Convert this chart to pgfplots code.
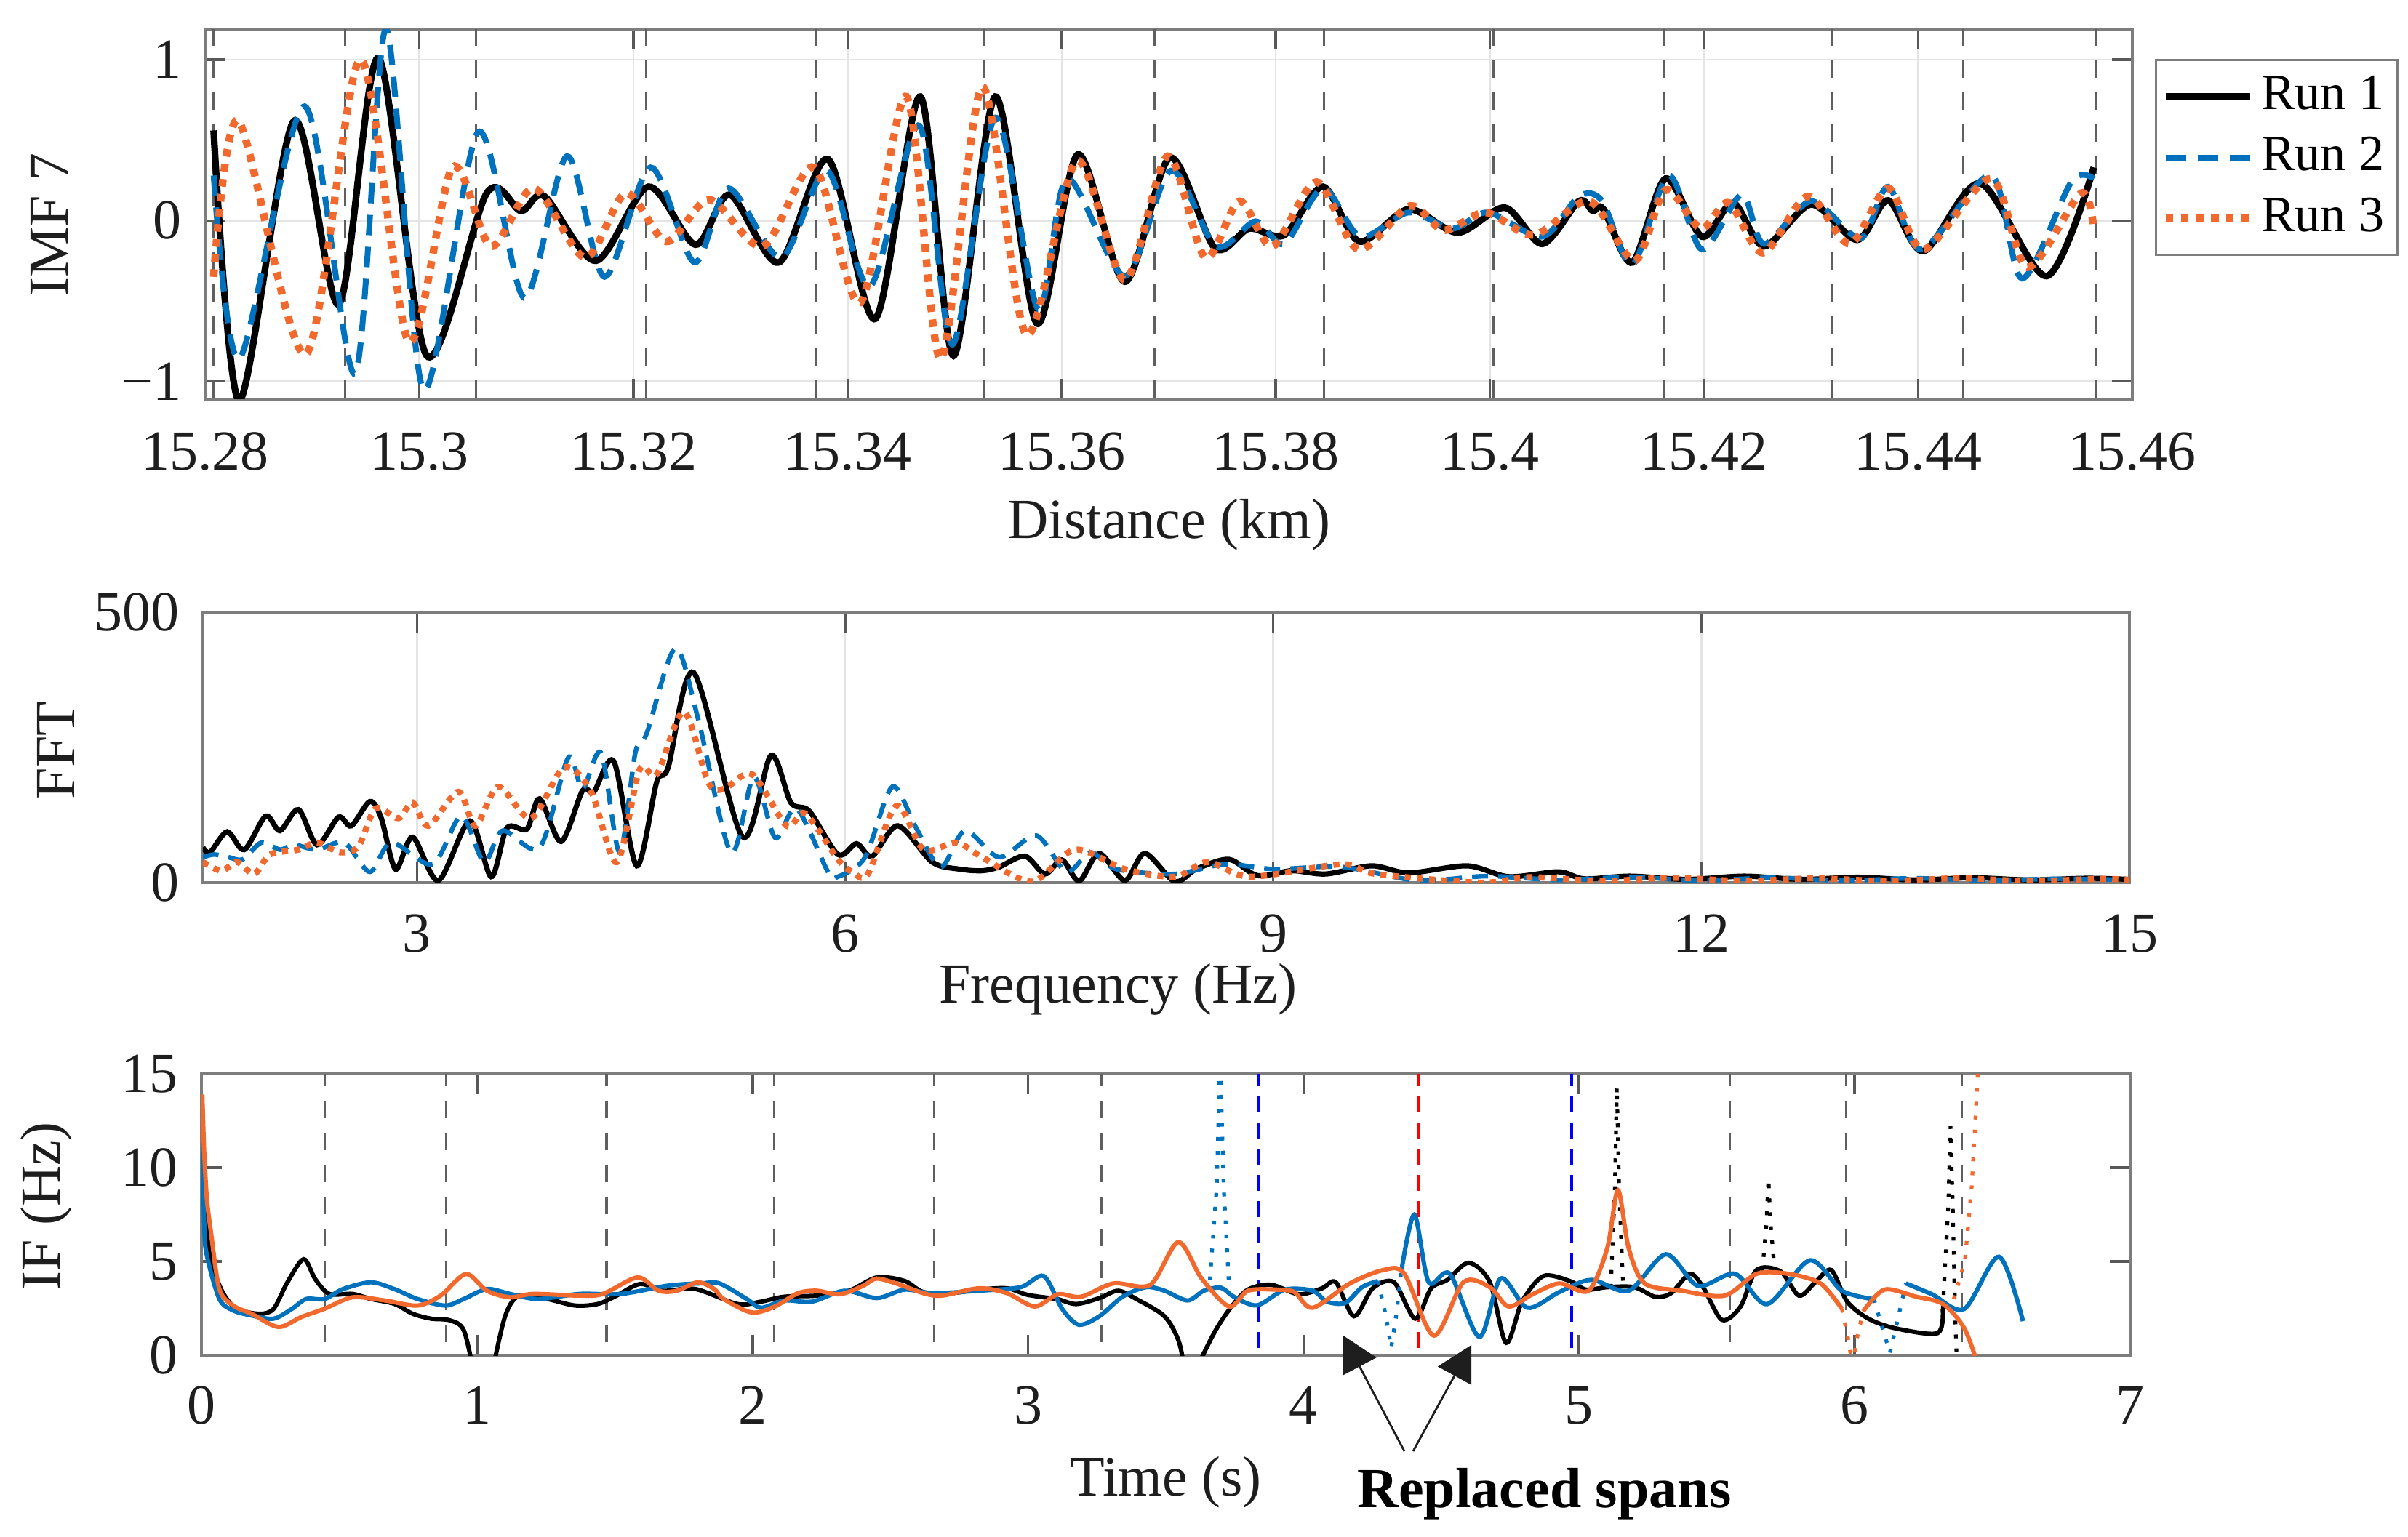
\documentclass[border=0pt]{standalone}
\usepackage{fontspec}
\setmainfont{Liberation Serif}
\usepackage{pgfplots}
\pgfplotsset{compat=1.18}
\usetikzlibrary{arrows.meta}
\definecolor{mblue}{RGB}{0,114,189}
\definecolor{morange}{RGB}{242,105,45}
\definecolor{axgray}{RGB}{125,125,125}
\definecolor{gridgray}{RGB}{228,228,228}
\definecolor{dashgray}{RGB}{95,95,95}
\definecolor{txt}{RGB}{30,30,30}

\pgfplotsset{
  mstyle/.style={
    scale only axis,
    axis line style={draw=axgray, line width=1.2pt},
    tick style={draw=axgray!70!black, line width=0.9pt},
    tick align=inside,
    major tick length=7pt,
    xtick pos=both, ytick pos=both,
    /pgf/number format/assume math mode=true,
    tick label style={font=\rmfamily\fontsize{19.5}{22}\selectfont, text=txt, inner sep=0pt},
    label style={font=\rmfamily\fontsize{19.5}{22}\selectfont, text=txt, inner sep=0pt},
    yticklabel style={anchor=east, xshift=-8pt},
    grid style={gridgray, line width=0.6pt},
    clip=true,
  },
  vdash/.style={dashgray, line width=0.8pt, dash pattern=on 6pt off 5pt, forget plot},
}

\begin{document}
\begin{tikzpicture}[font=\rmfamily\fontsize{19.5}{22}\selectfont]
\useasboundingbox (0,0) rectangle (827.75pt,528.25pt);

% ---------------- Top: IMF 7 ----------------
\begin{axis}[mstyle,
  at={(70.5pt,391pt)}, anchor=south west,
  width=662.5pt, height=127.25pt,
  xmin=15.28, xmax=15.46, ymin=-1.11, ymax=1.19,
  xtick={15.28,15.30,15.32,15.34,15.36,15.38,15.40,15.42,15.44,15.46},
  xticklabels={\textrm{15.28},\textrm{15.3},\textrm{15.32},\textrm{15.34},\textrm{15.36},\textrm{15.38},\textrm{15.4},\textrm{15.42},\textrm{15.44},\textrm{15.46}},
  ytick={-1,0,1}, yticklabels={\textrm{−1},\textrm{0},\textrm{1}},
  xticklabel style={anchor=center, yshift=-18pt},
  xmajorgrids, ymajorgrids,
  xlabel={Distance (km)},
  xlabel style={at={(axis description cs:0.5,-0.3772)}, anchor=base},
  ylabel={IMF 7},
  ylabel style={at={(axis description cs:-0.0808,0.4715)}, anchor=center},
  legend style={at={(axis description cs:1.0117,0.9194)}, anchor=north west,
    draw=axgray, line width=0.8pt, fill=white,
    font=\rmfamily\fontsize{17.5}{20}\selectfont, inner sep=2pt,
    nodes={inner sep=2.5pt, text height=12.5pt, text depth=3.5pt}},
  legend cell align=left,
  legend image code/.code={\draw[#1] (0pt,0pt) -- (29pt,0pt);},
]
\pgfplotsinvokeforeach{15.2808,15.2931,15.3053,15.3212,15.3370,15.3528,15.3687,15.3845,15.4003,15.4162,15.4320,15.4442,15.4566}{
  \addplot[vdash] coordinates {(#1,-1.3) (#1,1.3)};
}
\addplot[black, line width=2.3pt, smooth] coordinates {
(15.2808,0.56) (15.2832,-1.12) (15.2883,0.62) (15.2925,-0.52) (15.2962,1.01) (15.3007,-0.84) (15.3063,0.17) (15.3095,0.06) (15.3117,0.15) (15.3165,-0.25) (15.3214,0.21) (15.3258,-0.15) (15.3290,0.16) (15.3336,-0.26) (15.3382,0.38) (15.3426,-0.61) (15.3468,0.77) (15.3499,-0.84) (15.3538,0.77) (15.3577,-0.64) (15.3615,0.41) (15.3659,-0.38) (15.3701,0.39) (15.3743,-0.17) (15.3775,-0.05) (15.3808,-0.09) (15.3844,0.21) (15.3878,-0.13) (15.3924,0.07) (15.3970,-0.075) (15.4014,0.08) (15.4049,-0.145) (15.4083,0.12) (15.4096,0.06) (15.4106,0.07) (15.4133,-0.26) (15.4164,0.26) (15.4198,-0.10) (15.4227,0.11) (15.4256,-0.16) (15.4300,0.10) (15.4343,-0.12) (15.4372,0.125) (15.4405,-0.19) (15.4458,0.23) (15.4520,-0.345) (15.4564,0.33)
};
\addlegendentry{Run 1}
\addplot[mblue, line width=2.0pt, dash pattern=on 7pt off 4pt, smooth] coordinates {
(15.2808,0.28) (15.2832,-0.86) (15.2893,0.71) (15.2940,-0.95) (15.2969,1.19) (15.3004,-1.05) (15.3055,0.55) (15.3098,-0.48) (15.3138,0.40) (15.3173,-0.35) (15.3216,0.33) (15.3257,-0.26) (15.3289,0.20) (15.3338,-0.23) (15.3381,0.31) (15.3421,-0.41) (15.3467,0.59) (15.3498,-0.77) (15.3538,0.64) (15.3578,-0.55) (15.3605,0.26) (15.3659,-0.345) (15.3702,0.31) (15.3744,-0.16) (15.3781,-0.005) (15.3808,-0.145) (15.3844,0.20) (15.3879,-0.10) (15.3924,0.05) (15.3965,-0.05) (15.3998,0.05) (15.4049,-0.10) (15.4083,0.15) (15.4105,0.12) (15.4133,-0.275) (15.4167,0.28) (15.4198,-0.18) (15.4235,0.16) (15.4256,-0.145) (15.4300,0.12) (15.4346,-0.11) (15.4372,0.21) (15.4403,-0.18) (15.4468,0.28) (15.4497,-0.36) (15.4543,0.24) (15.4564,0.26)
};
\addlegendentry{Run 2}
\addplot[morange, line width=2.6pt, dash pattern=on 2.6pt off 2.6pt, smooth] coordinates {
(15.2808,-0.35) (15.2831,0.62) (15.2894,-0.83) (15.2945,1.00) (15.2990,-0.75) (15.3031,0.33) (15.3067,-0.16) (15.3107,0.20) (15.3155,-0.23) (15.3193,0.17) (15.3231,-0.13) (15.3271,0.13) (15.3321,-0.16) (15.3369,0.33) (15.3412,-0.51) (15.3455,0.77) (15.3487,-0.86) (15.3526,0.83) (15.3567,-0.71) (15.3614,0.37) (15.3659,-0.37) (15.3699,0.40) (15.3734,-0.23) (15.3766,0.12) (15.3797,-0.16) (15.3838,0.24) (15.3877,-0.18) (15.3925,0.09) (15.3957,-0.06) (15.3996,0.05) (15.4041,-0.09) (15.4093,0.12) (15.4135,-0.25) (15.4164,0.19) (15.4197,-0.05) (15.4223,0.11) (15.4255,-0.20) (15.4297,0.15) (15.4336,-0.145) (15.4372,0.20) (15.4405,-0.18) (15.4468,0.26) (15.4502,-0.29) (15.4552,0.17) (15.4564,-0.06)
};
\addlegendentry{Run 3}
\end{axis}

% ---------------- Middle: FFT ----------------
\begin{axis}[mstyle,
  at={(69.75pt,224.75pt)}, anchor=south west,
  width=662.25pt, height=93pt,
  xmin=1.5, xmax=15, ymin=0, ymax=500,
  xtick={3,6,9,12,15}, xticklabels={\textrm{3},\textrm{6},\textrm{9},\textrm{12},\textrm{15}},
  ytick={0,500}, yticklabels={\textrm{0},\textrm{500}},
  xticklabel style={anchor=center, yshift=-17.5pt},
  xmajorgrids,
  xlabel={Frequency (Hz)},
  xlabel style={at={(axis description cs:0.475,-0.445)}, anchor=base},
  ylabel={FFT},
  ylabel style={at={(axis description cs:-0.0763,0.489)}, anchor=center},
]
\addplot[black, line width=1.8pt, smooth] coordinates {
(1.50,65) (1.55,56) (1.67,94) (1.79,61) (1.94,123) (2.04,96) (2.17,135) (2.30,70) (2.45,121) (2.54,105) (2.67,150) (2.75,119) (2.85,25) (2.97,84) (3.15,4) (3.37,114) (3.52,11) (3.63,101) (3.77,99) (3.86,155) (4.01,76) (4.16,170) (4.24,168) (4.38,224) (4.54,31) (4.68,186) (4.76,213) (4.94,388) (5.28,85) (5.48,235) (5.62,148) (5.75,132) (5.95,52) (6.08,72) (6.19,49) (6.37,105) (6.61,38) (6.80,25) (6.96,22) (7.08,29) (7.26,49) (7.40,16) (7.52,42) (7.64,3) (7.78,54) (7.96,4) (8.10,54) (8.31,2) (8.46,25) (8.69,43) (8.89,13) (9.13,22) (9.37,16) (9.69,31) (9.95,18) (10.36,31) (10.65,11) (11.00,20) (11.18,7) (11.50,12) (11.90,6) (12.30,12) (12.70,6) (13.10,10) (13.50,5) (13.90,9) (14.30,5) (14.70,8) (15.00,6)
};
\addplot[mblue, line width=1.6pt, dash pattern=on 5.5pt off 3.5pt, smooth] coordinates {
(1.50,47) (1.58,52) (1.68,47) (1.78,43) (1.91,74) (2.04,61) (2.14,70) (2.30,61) (2.49,74) (2.67,20) (2.82,74) (3.11,34) (3.31,123) (3.47,38) (3.60,96) (3.86,65) (4.06,231) (4.16,173) (4.29,240) (4.42,56) (4.53,240) (4.61,276) (4.81,433) (4.97,303) (5.20,56) (5.36,195) (5.51,83) (5.66,137) (5.88,20) (5.95,11) (6.14,47) (6.33,177) (6.49,105) (6.67,29) (6.84,96) (7.08,47) (7.34,87) (7.55,20) (7.72,56) (7.90,25) (8.31,16) (8.66,34) (9.01,25) (9.48,29) (10.01,4) (10.50,12) (11.00,5) (11.50,10) (12.00,4) (12.50,9) (13.00,4) (13.50,8) (14.00,4) (14.50,7) (15.00,5)
};
\addplot[morange, line width=2.1pt, dash pattern=on 2.1pt off 2.1pt, smooth] coordinates {
(1.50,38) (1.63,22) (1.74,38) (1.86,16) (1.97,52) (2.17,61) (2.30,74) (2.46,56) (2.59,67) (2.71,137) (2.87,119) (2.97,148) (3.08,105) (3.29,168) (3.41,105) (3.57,177) (3.80,119) (4.03,213) (4.22,168) (4.40,38) (4.56,209) (4.68,200) (4.87,316) (5.04,186) (5.15,173) (5.35,200) (5.59,105) (5.72,128) (5.95,43) (6.05,20) (6.16,16) (6.36,142) (6.55,61) (6.78,74) (6.96,47) (7.31,2) (7.61,61) (7.96,25) (8.31,11) (8.54,38) (8.84,11) (9.48,34) (9.72,16) (10.45,0) (10.80,10) (11.30,3) (11.80,9) (12.30,3) (12.80,8) (13.30,3) (13.80,8) (14.30,3) (14.80,7) (15.00,5)
};
\end{axis}

% ---------------- Bottom: IF ----------------
\begin{axis}[mstyle,
  at={(69.25pt,62.25pt)}, anchor=south west,
  width=663pt, height=96.75pt,
  xmin=0, xmax=7, ymin=0, ymax=15,
  xtick={0,1,2,3,4,5,6,7},
  xticklabels={\textrm{0},\textrm{1},\textrm{2},\textrm{3},\textrm{4},\textrm{5},\textrm{6},\textrm{7}},
  ytick={0,5,10,15}, yticklabels={\textrm{0},\textrm{5},\textrm{10},\textrm{15}},
  xticklabel style={anchor=center, yshift=-17.25pt},
  xlabel={Time (s)},
  xlabel style={at={(axis description cs:0.5,-0.501)}, anchor=base},
  ylabel={IF (Hz)},
  ylabel style={at={(axis description cs:-0.0803,0.53)}, anchor=center},
]
\pgfplotsinvokeforeach{0.447,0.888,1.470,2.078,2.660,3.268,5.547,5.969,6.389}{
  \addplot[vdash] coordinates {(#1,-1) (#1,16)};
}
\addplot[blue, line width=1.0pt, dash pattern=on 5.5pt off 3.5pt] coordinates {(3.835,-1) (3.835,16)};
\addplot[red, line width=1.0pt, dash pattern=on 5.5pt off 3.5pt] coordinates {(4.419,-1) (4.419,16)};
\addplot[blue, line width=1.0pt, dash pattern=on 5.5pt off 3.5pt] coordinates {(4.973,-1) (4.973,16)};
% Run 1
\addplot[black, line width=1.5pt, smooth] coordinates {
(0.003,12) (0.010,8.5) (0.020,6.5) (0.040,4.8) (0.077,3.36) (0.127,2.48) (0.211,2.21) (0.262,2.48) (0.312,3.89) (0.371,5.12) (0.413,4.06) (0.464,3.27) (0.548,3.27) (0.615,3.0) (0.700,2.74) (0.767,2.21) (0.834,1.95) (0.902,1.86) (0.952,1.33) (0.990,-1) (1.020,-3) (1.053,-1) (1.103,2.12) (1.154,3.18) (1.255,3.0) (1.356,2.65) (1.440,2.74) (1.507,3.18) (1.592,3.8) (1.676,3.44) (1.793,3.53) (1.946,2.73) (2.031,2.86) (2.115,3.12) (2.233,3.18) (2.350,3.44) (2.451,4.15) (2.552,3.96) (2.620,3.37) (2.721,3.31) (2.822,3.5) (2.923,3.57) (2.990,3.25) (3.041,3.12) (3.108,2.99) (3.175,2.73) (3.259,3.05) (3.327,3.44) (3.394,2.99) (3.495,2.08) (3.546,0.79) (3.570,-0.8) (3.595,-2) (3.620,-0.5) (3.680,1.31) (3.739,2.6) (3.798,3.5) (3.882,3.76) (3.983,3.25) (4.067,3.57) (4.117,3.89) (4.183,2.08) (4.251,3.57) (4.328,3.89) (4.405,1.95) (4.463,3.57) (4.522,4.02) (4.599,4.93) (4.676,3.89) (4.735,0.66) (4.793,2.86) (4.870,4.22) (4.966,3.96) (5.025,3.5) (5.102,3.63) (5.200,3.63) (5.276,3.12) (5.334,3.31) (5.402,4.34) (5.450,3.63) (5.518,1.89) (5.586,2.6) (5.644,4.54) (5.731,4.47) (5.798,3.18) (5.857,3.89) (5.915,4.54) (5.973,2.86) (6.050,1.95) (6.147,1.44) (6.301,1.18) (6.320,2.47)
};
\addplot[black, line width=1.3pt, dash pattern=on 1.3pt off 3.5pt] coordinates {(5.115,3.6) (5.130,9) (5.137,14.3) (5.145,9) (5.160,3.6)};
\addplot[black, line width=1.3pt, dash pattern=on 1.3pt off 3.5pt] coordinates {(5.665,4.5) (5.680,7) (5.687,9.4) (5.695,7) (5.710,4.5)};
\addplot[black, line width=1.3pt, dash pattern=on 1.3pt off 3.5pt] coordinates {(6.320,2.47) (6.340,8) (6.348,12.2) (6.356,8) (6.365,2) (6.370,0)};
% Run 2
\addplot[mblue, line width=1.5pt, smooth] coordinates {
(0.003,13.4) (0.010,7) (0.020,5.3) (0.065,3.0) (0.115,2.39) (0.182,2.12) (0.262,1.95) (0.329,2.48) (0.380,3.0) (0.447,3.0) (0.514,3.53) (0.615,3.89) (0.700,3.53) (0.784,3.0) (0.885,2.65) (0.952,3.0) (1.036,3.53) (1.120,3.27) (1.221,3.0) (1.372,3.27) (1.524,3.27) (1.692,3.71) (1.812,3.83) (1.880,3.83) (1.980,2.99) (2.031,2.53) (2.115,2.92) (2.216,2.86) (2.334,3.44) (2.451,3.05) (2.552,3.5) (2.653,3.31) (2.822,3.44) (2.973,3.63) (3.057,4.22) (3.124,2.47) (3.184,1.63) (3.259,2.08) (3.343,3.12) (3.428,3.63) (3.495,3.44) (3.579,2.92) (3.638,3.44) (3.700,3.6) (3.747,3.12) (3.831,2.66) (3.932,3.5) (4.033,3.44) (4.084,2.86) (4.151,2.79) (4.212,3.63) (4.270,3.96)
};
\addplot[mblue, line width=1.3pt, dash pattern=on 1.3pt off 3.5pt] coordinates {(3.660,4) (3.685,9) (3.697,16) (3.710,9) (3.730,3.5)};
\addplot[mblue, line width=1.3pt, dash pattern=on 1.3pt off 3.5pt] coordinates {(4.270,3.96) (4.300,2) (4.318,0.4) (4.335,2) (4.354,4.4)};
\addplot[mblue, line width=1.5pt, smooth] coordinates {
(4.354,4.4) (4.402,7.5) (4.454,3.89) (4.531,4.34) (4.638,0.98) (4.715,4.09) (4.812,2.53) (4.928,3.37) (5.044,4.02) (5.180,3.44) (5.315,5.38) (5.431,3.7) (5.566,4.34) (5.683,2.73) (5.837,5.06) (5.954,3.44) (6.070,2.99)
};
\addplot[mblue, line width=1.3pt, dash pattern=on 1.3pt off 3.5pt] coordinates {(6.070,2.99) (6.100,1.5) (6.128,0.14) (6.155,1.8) (6.186,3.83)};
\addplot[mblue, line width=1.5pt, smooth] coordinates {
(6.186,3.83) (6.281,3.25) (6.398,2.47) (6.524,5.25) (6.611,1.82)
};
% Run 3
\addplot[morange, line width=1.5pt, smooth] coordinates {
(0.003,13.9) (0.010,10.8) (0.020,8.3) (0.035,6.5) (0.065,3.53) (0.115,2.65) (0.182,2.21) (0.279,1.51) (0.363,2.04) (0.447,2.48) (0.548,3.09) (0.666,2.92) (0.784,2.65) (0.868,3.18) (0.960,4.33) (1.036,3.44) (1.120,3.09) (1.204,3.27) (1.372,3.18) (1.457,3.27) (1.583,4.15) (1.659,3.44) (1.726,3.44) (1.801,3.89) (1.861,3.53) (1.896,2.99) (1.997,2.28) (2.081,2.6) (2.165,3.31) (2.233,3.44) (2.317,3.25) (2.401,3.7) (2.451,4.09) (2.535,3.76) (2.620,3.31) (2.687,3.18) (2.822,3.57) (2.923,3.31) (3.024,2.6) (3.108,3.25) (3.192,3.12) (3.310,3.83) (3.444,3.76) (3.545,6.03) (3.630,4.09) (3.730,2.6) (3.798,3.44) (3.899,3.5) (3.966,3.37) (4.033,2.53) (4.168,3.83) (4.289,4.54) (4.366,4.34) (4.473,1.05) (4.580,3.89) (4.676,3.63) (4.744,2.6) (4.831,3.25) (4.928,3.83) (5.034,3.44) (5.102,5.7) (5.141,8.8) (5.180,5.7) (5.238,3.83) (5.373,3.44) (5.528,3.18) (5.644,4.34) (5.760,4.34) (5.876,3.83) (5.954,2.47)
};
\addplot[morange, line width=1.3pt, dash pattern=on 1.3pt off 3.5pt] coordinates {(5.954,2.47) (5.975,1) (5.992,-0.5) (6.010,1) (6.031,2.34)};
\addplot[morange, line width=1.5pt, smooth] coordinates {
(6.031,2.34) (6.108,3.5) (6.224,3.12) (6.321,2.73) (6.398,1.44) (6.447,-0.5)
};
\addplot[morange, line width=1.3pt, dash pattern=on 1.3pt off 3.5pt] coordinates {(6.360,3) (6.400,5) (6.425,9) (6.440,13) (6.450,16)};
\end{axis}

% annotation
\draw[txt, line width=0.7pt, -{Triangle[width=13pt,length=12pt]}] (482.75pt,29.25pt) -- (461.75pt,69pt);
\draw[txt, line width=0.7pt, -{Triangle[width=13pt,length=12pt]}] (485.75pt,29.25pt) -- (505.75pt,65.75pt);
\node[anchor=base west, inner sep=0pt, text=black, font=\rmfamily\bfseries\fontsize{19.5}{22}\selectfont] at (466.5pt,10pt) {Replaced spans};
\end{tikzpicture}
\end{document}
